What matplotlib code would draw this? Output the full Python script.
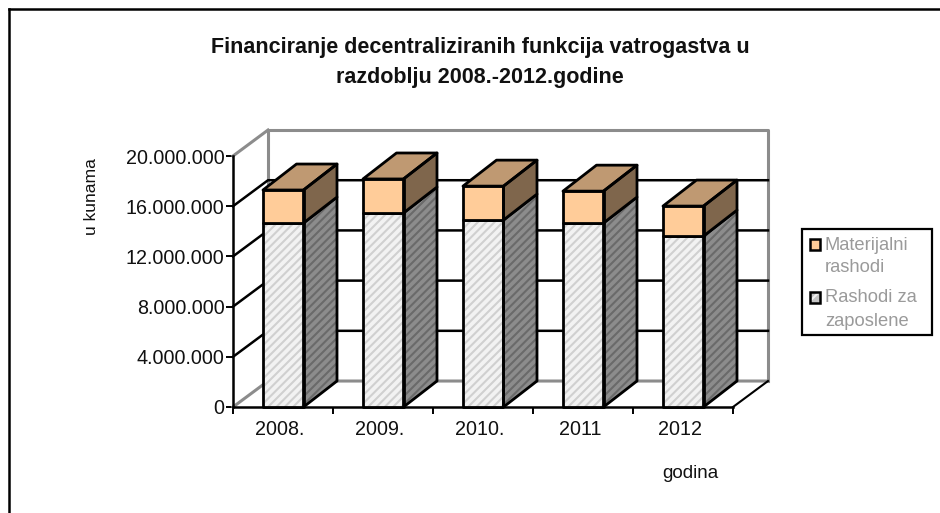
"""Financiranje vatrogastva - pseudo 3D stacked bars."""
import matplotlib
matplotlib.use("Agg")
import matplotlib.pyplot as plt
from matplotlib.patches import Polygon, Rectangle

plt.rcParams["font.family"] = ["Liberation Sans", "DejaVu Sans"]
plt.rcParams["hatch.linewidth"] = 1.5

W, H = 940, 513

godine = ["2008.", "2009.", "2010.", "2011", "2012"]
rashodi_zaposleni = [14660000, 15460000, 14900000, 14660000, 13620000]
materijalni = [2630000, 2710000, 2700000, 2540000, 2390000]
y_ticks = [0, 4000000, 8000000, 12000000, 16000000, 20000000]
y_labels = ["0", "4.000.000", "8.000.000", "12.000.000", "16.000.000", "20.000.000"]

fig = plt.figure(figsize=(W / 100, H / 100), dpi=100, facecolor="white")

# axes = prednja ravnina grafa
ax = fig.add_axes([233 / W, 1 - 407 / H, 500 / W, 251 / H])
ax.set_xlim(0, 5)
ax.set_ylim(0, 20000000)
ax.patch.set_visible(False)
for s in ("top", "right"):
    ax.spines[s].set_visible(False)
for s in ("left", "bottom"):
    ax.spines[s].set_linewidth(1.8)

ax.set_yticks(y_ticks)
ax.set_yticklabels(y_labels, fontsize=14.2, color="#111111")
ax.set_xticks(range(6))
ax.set_xticklabels([])
ax.tick_params(axis="both", length=5, width=1.4, pad=1, direction="out")
for i, g in enumerate(godine):
    ax.text(i + 0.47, -1800000, g, ha="center", va="center", fontsize=14.2, color="#111111")

# dubina zidova i stupaca u jedinicama osi
DX, DY = 0.35, 2070000
BX, BY = 0.335, 2070000
BAR_W = 0.405
BAR_X0 = 0.30
GREY = "#8c8c8c"

# zidovi
ax.plot([DX, DX, 5 + DX, 5 + DX], [DY, 20000000 + DY, 20000000 + DY, DY],
        color=GREY, lw=2.2, clip_on=False, zorder=2)
ax.plot([0, DX, 5 + DX], [0, DY, DY], color=GREY, lw=2.2, clip_on=False, zorder=2)
ax.plot([0, DX], [20000000, 20000000 + DY], color=GREY, lw=2.2, clip_on=False, zorder=2)
ax.plot([5, 5 + DX], [0, DY], color="black", lw=1.5, clip_on=False, zorder=2)

# mreza na bocnom i straznjem zidu
for t in y_ticks[1:-1]:
    ax.plot([0, DX, 5 + DX], [t, t + DY, t + DY], color="black", lw=1.8,
            clip_on=False, zorder=2)


def box(x0, y0, y1, front, side, hatch_front=None, hatch_side=None, zorder=3):
    x1 = x0 + BAR_W
    pts_front = [(x0, y0), (x1, y0), (x1, y1), (x0, y1)]
    pts_side = [(x1, y0), (x1 + BX, y0 + BY), (x1 + BX, y1 + BY), (x1, y1)]
    if hatch_front:
        ax.add_patch(Polygon(pts_front, closed=True, facecolor=front, edgecolor=hatch_front,
                             hatch="////", lw=0, clip_on=False, zorder=zorder))
        ax.add_patch(Polygon(pts_side, closed=True, facecolor=side, edgecolor=hatch_side,
                             hatch="////", lw=0, clip_on=False, zorder=zorder))
    else:
        ax.add_patch(Polygon(pts_front, closed=True, facecolor=front, lw=0,
                             clip_on=False, zorder=zorder))
        ax.add_patch(Polygon(pts_side, closed=True, facecolor=side, lw=0,
                             clip_on=False, zorder=zorder))
    for pts in (pts_front, pts_side):
        ax.add_patch(Polygon(pts, closed=True, fill=False, edgecolor="black", lw=2,
                             clip_on=False, zorder=zorder + 0.5, joinstyle="round"))


for i in range(len(godine)):
    x0 = i + BAR_X0
    zap = rashodi_zaposleni[i]
    vrh = zap + materijalni[i]
    box(x0, 0, zap, "#f2f2f2", "#8c8c8c", "#d0d0d0", "#6a6a6a", zorder=3 + i)
    box(x0, zap, vrh, "#ffcc99", "#7f664c", zorder=3 + i + 0.6)
    top = [(x0, vrh), (x0 + BAR_W, vrh), (x0 + BAR_W + BX, vrh + BY), (x0 + BX, vrh + BY)]
    ax.add_patch(Polygon(top, closed=True, facecolor="#bf9972", edgecolor="black", lw=2,
                         clip_on=False, zorder=3 + i + 0.8, joinstyle="round"))

# naslovi
fig.text(480 / W, 1 - 48 / H, "Financiranje decentraliziranih funkcija vatrogastva u",
         ha="center", va="center", fontsize=15.5, fontweight="bold", color="#111111")
fig.text(480 / W, 1 - 78 / H, "razdoblju 2008.-2012.godine",
         ha="center", va="center", fontsize=15.5, fontweight="bold", color="#111111")
fig.text(92 / W, 1 - 197 / H, "u kunama", rotation=90, ha="center", va="center",
         fontsize=12.6, color="#111111")
fig.text(690 / W, 1 - 473 / H, "godina", ha="center", va="center",
         fontsize=13.5, color="#111111")

# okvir
fig.add_artist(plt.Line2D([9 / W, 9 / W], [0, 1 - 9 / H], color="black", lw=1.8))
fig.add_artist(plt.Line2D([9 / W, 1], [1 - 9 / H, 1 - 9 / H], color="black", lw=1.8))

# legenda
fig.add_artist(Rectangle((802 / W, 1 - 335 / H), 130 / W, 106 / H, transform=fig.transFigure,
                         facecolor="white", edgecolor="black", lw=1.6))
fig.add_artist(Rectangle((810 / W, 1 - 250 / H), 10 / W, 11 / H, transform=fig.transFigure,
                         facecolor="#ffcc99", edgecolor="black", lw=1.8))
fig.add_artist(Rectangle((810 / W, 1 - 303 / H), 10 / W, 11 / H, transform=fig.transFigure,
                         facecolor="#c4c4c4", edgecolor="#f0f0f0", lw=0, hatch="///"))
fig.add_artist(Rectangle((810 / W, 1 - 303 / H), 10 / W, 11 / H, transform=fig.transFigure,
                         fill=False, edgecolor="black", lw=1.8))
for y, txt in [(245, "Materijalni"), (268, "rashodi"), (298, "Rashodi za"), (321, "zaposlene")]:
    fig.text(825 / W, 1 - y / H, txt, ha="left", va="center", fontsize=13.2, color="#9a9a9a")

fig.savefig("out.png", dpi=100, facecolor="white")
plt.close(fig)
